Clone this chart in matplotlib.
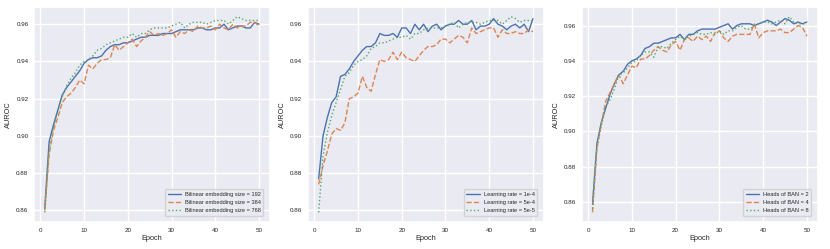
import numpy as np
import matplotlib
matplotlib.use("Agg")
import matplotlib.pyplot as plt
import seaborn as sns

epochs = list(range(1, 51))

# panel 1: bilinear embedding size
emb_192 = [0.861, 0.897, 0.906, 0.914, 0.922, 0.926, 0.929, 0.932, 0.935, 0.939,
           0.941, 0.942, 0.942, 0.943, 0.946, 0.948, 0.949, 0.949, 0.950, 0.950,
           0.951, 0.952, 0.953, 0.953, 0.954, 0.954, 0.954, 0.955, 0.955, 0.955,
           0.956, 0.957, 0.957, 0.957, 0.957, 0.958, 0.958, 0.957, 0.957, 0.958,
           0.958, 0.960, 0.957, 0.958, 0.959, 0.959, 0.958, 0.958, 0.961, 0.960]
emb_384 = [0.860, 0.890, 0.903, 0.910, 0.918, 0.921, 0.923, 0.926, 0.930, 0.928,
           0.938, 0.936, 0.939, 0.941, 0.941, 0.942, 0.949, 0.946, 0.948, 0.950,
           0.952, 0.948, 0.951, 0.953, 0.956, 0.954, 0.955, 0.954, 0.955, 0.957,
           0.953, 0.956, 0.955, 0.957, 0.956, 0.959, 0.958, 0.958, 0.959, 0.957,
           0.960, 0.958, 0.957, 0.960, 0.958, 0.959, 0.959, 0.961, 0.961, 0.959]
emb_768 = [0.859, 0.893, 0.905, 0.913, 0.921, 0.927, 0.931, 0.934, 0.938, 0.940,
           0.941, 0.943, 0.946, 0.947, 0.949, 0.950, 0.951, 0.952, 0.953, 0.953,
           0.955, 0.953, 0.955, 0.955, 0.957, 0.958, 0.958, 0.958, 0.958, 0.959,
           0.960, 0.961, 0.958, 0.960, 0.961, 0.961, 0.961, 0.960, 0.961, 0.962,
           0.962, 0.962, 0.960, 0.962, 0.964, 0.963, 0.962, 0.962, 0.962, 0.962]

# panel 2: learning rate
lr_1e4 = [0.877, 0.900, 0.910, 0.918, 0.921, 0.932, 0.933, 0.936, 0.940, 0.943,
          0.946, 0.948, 0.948, 0.950, 0.955, 0.954, 0.954, 0.955, 0.953, 0.958,
          0.958, 0.955, 0.960, 0.957, 0.960, 0.956, 0.959, 0.960, 0.957, 0.959,
          0.960, 0.960, 0.962, 0.960, 0.960, 0.962, 0.957, 0.959, 0.959, 0.960,
          0.963, 0.960, 0.959, 0.957, 0.959, 0.960, 0.958, 0.960, 0.956, 0.963]
lr_5e4 = [0.874, 0.884, 0.892, 0.901, 0.904, 0.903, 0.907, 0.920, 0.921, 0.923,
          0.932, 0.926, 0.924, 0.933, 0.941, 0.940, 0.941, 0.945, 0.941, 0.945,
          0.942, 0.941, 0.940, 0.943, 0.946, 0.948, 0.948, 0.949, 0.952, 0.952,
          0.950, 0.952, 0.954, 0.953, 0.950, 0.958, 0.955, 0.956, 0.957, 0.958,
          0.958, 0.953, 0.957, 0.955, 0.955, 0.956, 0.955, 0.955, 0.957, 0.956]
lr_5e5 = [0.859, 0.889, 0.902, 0.911, 0.918, 0.925, 0.932, 0.934, 0.938, 0.940,
          0.941, 0.943, 0.947, 0.948, 0.950, 0.950, 0.951, 0.952, 0.953, 0.953,
          0.954, 0.952, 0.955, 0.955, 0.957, 0.958, 0.958, 0.958, 0.958, 0.959,
          0.960, 0.961, 0.958, 0.960, 0.961, 0.961, 0.961, 0.960, 0.961, 0.962,
          0.962, 0.962, 0.960, 0.962, 0.964, 0.963, 0.961, 0.962, 0.962, 0.962]

# panel 3: heads of BAN
heads_2 = [0.859, 0.893, 0.905, 0.913, 0.921, 0.927, 0.932, 0.934, 0.938, 0.940,
           0.941, 0.943, 0.947, 0.948, 0.950, 0.950, 0.951, 0.952, 0.953, 0.953,
           0.955, 0.952, 0.955, 0.955, 0.957, 0.958, 0.958, 0.958, 0.958, 0.959,
           0.960, 0.961, 0.958, 0.960, 0.961, 0.961, 0.961, 0.960, 0.961, 0.962,
           0.963, 0.962, 0.960, 0.962, 0.964, 0.963, 0.961, 0.962, 0.961, 0.962]
heads_4 = [0.854, 0.890, 0.904, 0.917, 0.922, 0.927, 0.932, 0.927, 0.932, 0.937,
           0.936, 0.941, 0.941, 0.943, 0.946, 0.948, 0.946, 0.945, 0.949, 0.951,
           0.946, 0.952, 0.953, 0.951, 0.954, 0.952, 0.954, 0.951, 0.956, 0.957,
           0.953, 0.951, 0.954, 0.955, 0.955, 0.955, 0.955, 0.961, 0.953, 0.956,
           0.957, 0.957, 0.957, 0.958, 0.956, 0.956, 0.958, 0.960, 0.959, 0.954]
heads_8 = [0.856, 0.892, 0.903, 0.914, 0.918, 0.924, 0.932, 0.933, 0.936, 0.939,
           0.940, 0.943, 0.945, 0.945, 0.942, 0.948, 0.948, 0.947, 0.950, 0.952,
           0.954, 0.952, 0.954, 0.955, 0.956, 0.955, 0.955, 0.956, 0.955, 0.957,
           0.955, 0.957, 0.957, 0.959, 0.960, 0.958, 0.958, 0.960, 0.961, 0.962,
           0.962, 0.961, 0.962, 0.963, 0.961, 0.965, 0.962, 0.961, 0.961, 0.961]

panels = [
    ([emb_192, emb_384, emb_768],
     ["Bilinear embedding size = 192", "Bilinear embedding size = 384",
      "Bilinear embedding size = 768"]),
    ([lr_1e4, lr_5e4, lr_5e5],
     ["Learning rate = 1e-4", "Learning rate = 5e-4", "Learning rate = 5e-5"]),
    ([heads_2, heads_4, heads_8],
     ["Heads of BAN = 2", "Heads of BAN = 4", "Heads of BAN = 8"]),
]

sns.set_theme(style="darkgrid")
plt.rcParams['font.family'] = ['Liberation Sans', 'DejaVu Sans']

colors = sns.color_palette()[:3]
styles = ['-', '--', ':']

fig = plt.figure(figsize=(8.3, 2.49), dpi=100)
lefts = [0.041, 0.371, 0.701]
for left, (series, labels) in zip(lefts, panels):
    ax = fig.add_axes([left, 0.108, 0.284, 0.864])
    for s, lab, c, ls in zip(series, labels, colors, styles):
        ax.plot(epochs, s, color=c, linestyle=ls, linewidth=1.0, label=lab)
    ax.set_xlabel("Epoch", fontsize=5.3, labelpad=2)
    ax.set_ylabel("AUROC", fontsize=5.3, labelpad=3)
    ax.tick_params(labelsize=4.5, pad=4, length=0)
    ax.yaxis.set_major_formatter(plt.FormatStrFormatter('%.2f'))
    ax.legend(loc='lower right', fontsize=4.1, handlelength=2.4,
              handletextpad=0.6, borderpad=0.5, labelspacing=0.5,
              borderaxespad=1.1)

fig.savefig("out.png", dpi=100)
